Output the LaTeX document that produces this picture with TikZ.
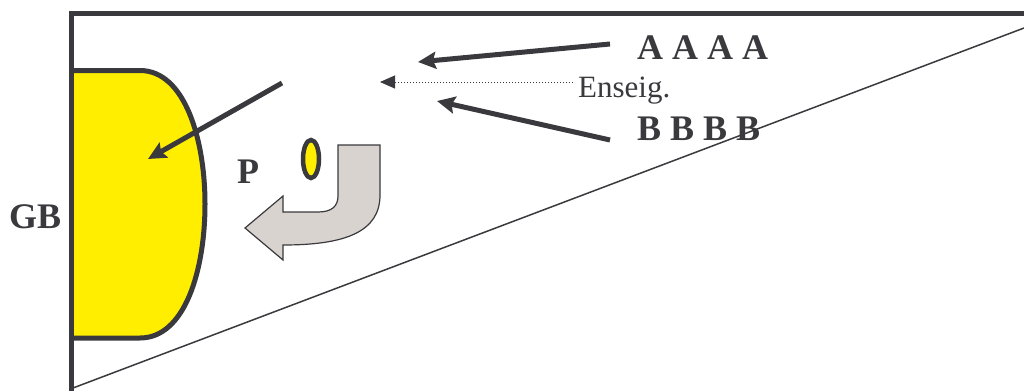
\documentclass[tikz,border=0pt]{standalone}
\usepackage{fontspec}
\setmainfont{Liberation Serif}
\usepackage{tikz}
\usetikzlibrary{arrows.meta}
\definecolor{dark}{RGB}{58,57,61}
\definecolor{gelb}{RGB}{255,238,0}
\definecolor{hellgrau}{RGB}{217,211,208}

\begin{document}
\begin{tikzpicture}[x=1pt,y=-1pt,line join=miter,
        bigarrow/.style={draw=dark,line width=5pt,-{Stealth[length=18pt,width=17pt,inset=3pt]}},
        lbl/.style={text=dark,font=\bfseries\fontsize{36}{36}\selectfont,inner sep=0pt,anchor=base west}]
    \useasboundingbox (0,0) rectangle (1024,391);

        % yellow block and frame
        \draw[draw=dark,fill=gelb,line width=5pt] (71.5,70.5) -- (140,70.5)
            .. controls (185,70.5) and (205,140) .. (205,204)
            .. controls (205,270) and (185,338) .. (140,338) -- (71.5,338);
        \draw[dark,line width=1.5pt] (73,388) -- (1024,28);
        \draw[dark,line width=5pt] (71.5,391) -- (71.5,13) -- (1024,13);

        \node[lbl] (GB) at (9,228) {GB};
        \node[lbl] (P)  at (237,183) {P};
        \node[lbl] (AA) at (637,59) {A A A A};
        \node[lbl] (BB) at (637,140) {B B B B};
        \node[text=dark,font=\fontsize{31}{31}\selectfont,inner sep=0pt,anchor=base west] (E) at (578,97) {Enseig.};

        \coordinate (a1) at (610,44);  \coordinate (a2) at (418,62);
        \coordinate (b1) at (610,140); \coordinate (b2) at (437,101);
        \coordinate (e1) at (573,82);  \coordinate (e2) at (380,82);
        \coordinate (g1) at (282,83);  \coordinate (g2) at (148,159);

        \draw[bigarrow] (a1) -- (a2);
        \draw[bigarrow] (b1) -- (b2);
        \draw[bigarrow] (g1) -- (g2);
        \draw[dark,line width=1pt,dotted,-{Triangle[length=15pt,width=13pt]}] (e1) -- (e2);

        % small ring and turning arrow
        \draw[draw=dark,fill=gelb,line width=4.5pt] (311,159) ellipse [x radius=8,y radius=19];
        \draw[draw=dark,fill=hellgrau,line width=1.2pt] (338,145) -- (380,145) -- (380,195)
            .. controls (380,232) and (345,245) .. (283,245) -- (283,260) -- (245,228)
            -- (283,196) -- (283,212) -- (318,212)
            .. controls (332,212) and (338,206) .. (338,196) -- cycle;
\end{tikzpicture}
\end{document}
